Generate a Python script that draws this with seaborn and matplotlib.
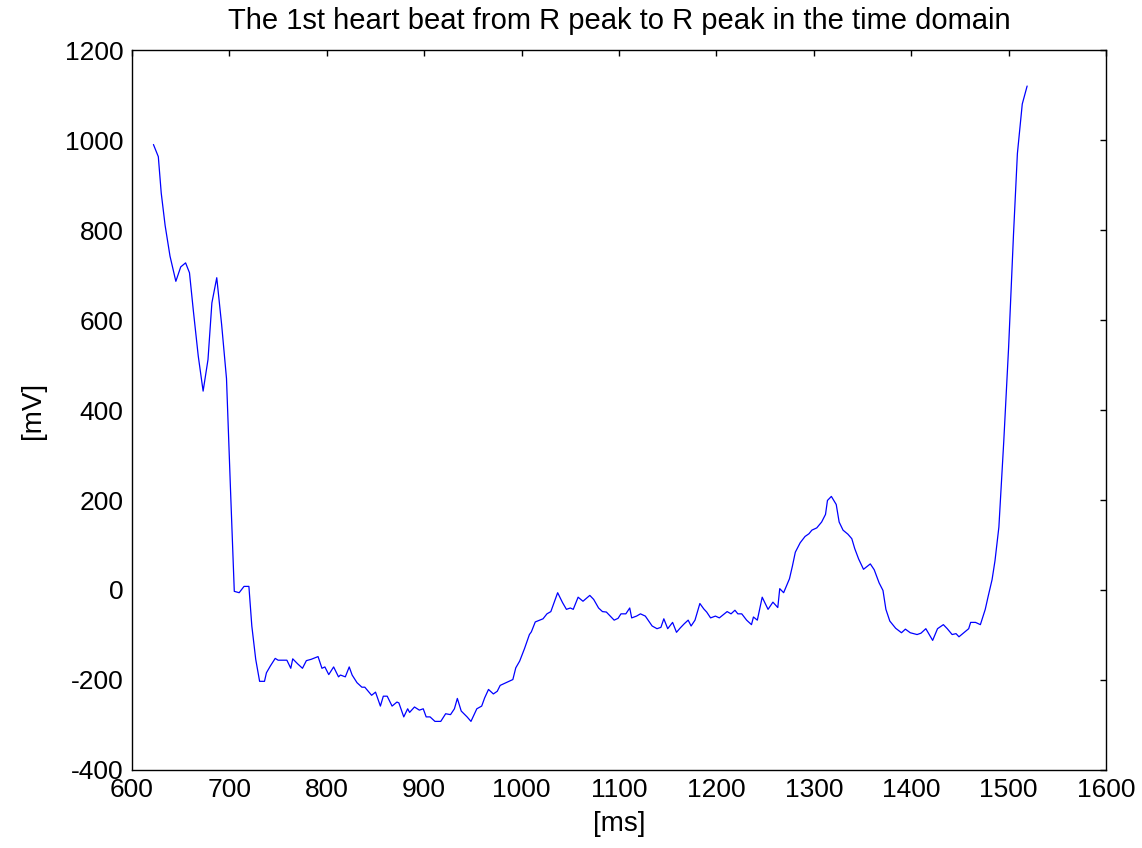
import pandas as pd
import seaborn as sns
import matplotlib
matplotlib.use("Agg")
import matplotlib.pyplot as plt

# tempo (ms) e amplitude (mV)
tempo_ms = [
    622, 627, 630, 634, 639, 645, 650, 655, 659, 663, 668, 673, 678, 682, 687,
    692, 697, 701, 705, 710, 715, 720, 723, 727, 731, 736, 738, 742, 747, 750,
    759, 763, 765, 770, 775, 779, 784, 791, 795, 798, 802, 807, 812, 814, 819,
    823, 826, 831, 836, 839, 846, 850, 855, 858, 862, 867, 872, 874, 879, 883,
    885, 890, 895, 899, 902, 906, 911, 917, 922, 927, 931, 934, 938, 944, 948,
    954, 959, 962, 966, 971, 975, 978, 985, 991, 994, 998, 1003, 1008, 1010, 1014,
    1022, 1026, 1030, 1037, 1042, 1046, 1050, 1053, 1058, 1063, 1070, 1074, 1079, 1083, 1087,
    1091, 1095, 1099, 1102, 1107, 1111, 1113, 1118, 1122, 1127, 1134, 1139, 1143, 1146, 1150,
    1155, 1159, 1163, 1167, 1171, 1174, 1178, 1183, 1187, 1190, 1194, 1199, 1203, 1211, 1215,
    1219, 1222, 1226, 1231, 1236, 1238, 1242, 1247, 1253, 1258, 1263, 1265, 1269, 1275, 1278,
    1281, 1286, 1291, 1295, 1298, 1303, 1308, 1312, 1314, 1318, 1323, 1326, 1330, 1335, 1339,
    1342, 1346, 1351, 1358, 1362, 1367, 1371, 1374, 1378, 1384, 1390, 1394, 1399, 1406, 1410,
    1415, 1422, 1427, 1433, 1437, 1442, 1446, 1449, 1454, 1459, 1461, 1466, 1471, 1476, 1479,
    1483, 1486, 1490, 1495, 1500, 1505, 1509, 1514, 1519,
]
amplitude_mv = [
    990, 963, 882, 810, 742, 686, 718, 727, 705, 620, 520, 442, 512, 638, 694,
    590, 470, 230, -3, -6, 8, 8, -80, -154, -203, -203, -184, -169, -152, -156,
    -156, -174, -153, -164, -174, -157, -154, -148, -174, -171, -188, -171, -193, -189, -193,
    -171, -189, -206, -216, -216, -234, -227, -258, -236, -236, -258, -249, -251, -282, -264,
    -272, -260, -267, -264, -282, -282, -292, -292, -275, -277, -264, -241, -269, -282, -292,
    -264, -258, -240, -221, -231, -225, -212, -205, -199, -173, -158, -130, -99, -93, -71,
    -64, -53, -48, -6, -28, -43, -40, -43, -16, -25, -12, -21, -40, -48, -49,
    -58, -67, -63, -53, -53, -40, -62, -58, -53, -58, -80, -86, -83, -64, -86,
    -72, -94, -84, -75, -67, -80, -67, -30, -42, -49, -62, -58, -62, -48, -53,
    -45, -53, -53, -67, -77, -60, -67, -16, -43, -27, -39, 3, -6, 25, 53,
    84, 105, 119, 125, 133, 138, 151, 168, 199, 208, 190, 151, 133, 124, 114,
    92, 69, 46, 58, 45, 16, -1, -43, -69, -85, -95, -87, -95, -99, -96,
    -86, -112, -86, -77, -86, -99, -97, -104, -95, -86, -72, -72, -77, -43, -14,
    23, 65, 140, 330, 540, 790, 970, 1080, 1120,
]

x_ticks = [600, 700, 800, 900, 1000, 1100, 1200, 1300, 1400, 1500, 1600]
y_ticks = [-400, -200, 0, 200, 400, 600, 800, 1000, 1200]

dados = pd.DataFrame({'tempo': tempo_ms, 'amplitude': amplitude_mv})

sns.set_style("white")
plt.rcParams['font.family'] = ['Liberation Sans', 'DejaVu Sans']
plt.rcParams['axes.unicode_minus'] = False
plt.rcParams['text.color'] = 'black'
plt.rcParams['axes.labelcolor'] = 'black'

fig = plt.figure(figsize=(11.42, 8.48), dpi=100)
ax = fig.add_axes([0.1156, 0.0920, 0.8529, 0.8490])

sns.lineplot(data=dados, x='tempo', y='amplitude', color='#0000ff',
             linewidth=0.9, estimator=None, sort=False, ax=ax)

ax.set_xlim(600, 1600)
ax.set_ylim(-400, 1200)
ax.set_xticks(x_ticks)
ax.set_yticks(y_ticks)
ax.tick_params(direction='in', length=4, width=1, top=True, right=True,
               labelsize=19, colors='black', pad=6)

for lado in ax.spines.values():
    lado.set_visible(True)
    lado.set_color('black')
    lado.set_linewidth(1.0)

ax.set_title('The 1st heart beat from R peak to R peak in the time domain',
             fontsize=21, pad=15, color='black')
ax.set_xlabel('[ms]', fontsize=20, labelpad=6, color='black')
ax.set_ylabel('[mV]', fontsize=20, labelpad=14, color='black')

fig.savefig('out.png', dpi=100, facecolor='white')
